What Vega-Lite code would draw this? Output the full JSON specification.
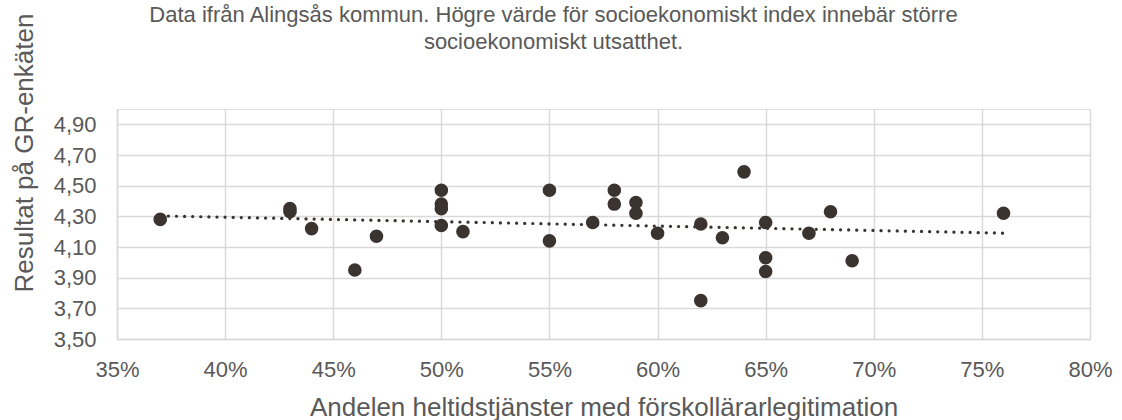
{
  "$schema": "https://vega.github.io/schema/vega-lite/v6.json",
  "width": 973,
  "height": 230,
  "autosize": {"type": "none"},
  "padding": {"left": 117, "top": 109, "right": 32, "bottom": 81},
  "background": "white",
  "title": {
    "text": ["Data ifrån Alingsås kommun. Högre värde för socioekonomiskt index innebär större", "socioekonomiskt utsatthet."],
    "font": "Liberation Sans",
    "fontSize": 22,
    "fontWeight": "normal",
    "color": "#595959",
    "lineHeight": 27,
    "anchor": "middle",
    "frame": "group",
    "dx": -50,
    "offset": 0,
    "dy": 41
  },
  "data": {
    "values": [
      {"andel": 0.37, "resultat": 4.28},
      {"andel": 0.43, "resultat": 4.35},
      {"andel": 0.43, "resultat": 4.33},
      {"andel": 0.44, "resultat": 4.22},
      {"andel": 0.46, "resultat": 3.95},
      {"andel": 0.47, "resultat": 4.17},
      {"andel": 0.50, "resultat": 4.47},
      {"andel": 0.50, "resultat": 4.38},
      {"andel": 0.50, "resultat": 4.35},
      {"andel": 0.50, "resultat": 4.24},
      {"andel": 0.51, "resultat": 4.20},
      {"andel": 0.55, "resultat": 4.47},
      {"andel": 0.55, "resultat": 4.14},
      {"andel": 0.57, "resultat": 4.26},
      {"andel": 0.58, "resultat": 4.47},
      {"andel": 0.58, "resultat": 4.38},
      {"andel": 0.59, "resultat": 4.39},
      {"andel": 0.59, "resultat": 4.32},
      {"andel": 0.60, "resultat": 4.19},
      {"andel": 0.62, "resultat": 4.25},
      {"andel": 0.62, "resultat": 3.75},
      {"andel": 0.63, "resultat": 4.16},
      {"andel": 0.64, "resultat": 4.59},
      {"andel": 0.65, "resultat": 4.26},
      {"andel": 0.65, "resultat": 4.03},
      {"andel": 0.65, "resultat": 3.94},
      {"andel": 0.67, "resultat": 4.19},
      {"andel": 0.68, "resultat": 4.33},
      {"andel": 0.69, "resultat": 4.01},
      {"andel": 0.76, "resultat": 4.32}
    ]
  },
  "encoding": {
    "x": {
      "field": "andel",
      "type": "quantitative",
      "scale": {"domain": [0.35, 0.80], "nice": false, "zero": false},
      "axis": {
        "values": [0.35, 0.40, 0.45, 0.50, 0.55, 0.60, 0.65, 0.70, 0.75, 0.80],
        "format": ".0%",
        "title": "Andelen heltidstjänster med förskollärarlegitimation",
        "titleFont": "Liberation Sans",
        "titleFontSize": 26,
        "titleFontWeight": "normal",
        "titleColor": "#595959",
        "titleBaseline": "alphabetic",
        "titleY": 76,
        "labelFont": "Liberation Sans",
        "labelFontSize": 22,
        "labelColor": "#595959",
        "labelPadding": 20,
        "labelFlush": false,
        "ticks": false,
        "grid": true,
        "gridColor": "#d9d9d9",
        "gridWidth": 1.5,
        "domainColor": "#d9d9d9",
        "domainWidth": 1.5
      }
    },
    "y": {
      "field": "resultat",
      "type": "quantitative",
      "scale": {"domain": [3.5, 5.0], "nice": false, "zero": false},
      "axis": {
        "values": [3.5, 3.7, 3.9, 4.1, 4.3, 4.5, 4.7, 4.9],
        "labelExpr": "replace(format(datum.value, '.2f'), '.', ',')",
        "title": "Resultat på GR-enkäten",
        "titleFont": "Liberation Sans",
        "titleFontSize": 26,
        "titleFontWeight": "normal",
        "titleColor": "#595959",
        "titleAngle": -90,
        "titleAlign": "left",
        "titleBaseline": "alphabetic",
        "titleX": -85,
        "titleY": 183,
        "labelFont": "Liberation Sans",
        "labelFontSize": 22,
        "labelColor": "#595959",
        "labelPadding": 21,
        "labelFlush": false,
        "ticks": false,
        "grid": true,
        "gridColor": "#d9d9d9",
        "gridWidth": 1.5,
        "domainColor": "#d9d9d9",
        "domainWidth": 1.5
      }
    }
  },
  "layer": [
    {
      "mark": {"type": "point", "filled": true, "shape": "circle", "size": 185, "color": "#3a3330", "opacity": 1}
    },
    {
      "transform": [{"regression": "resultat", "on": "andel"}],
      "mark": {"type": "line", "color": "#3a3330", "strokeWidth": 3.2, "strokeDash": [0.1, 8], "strokeCap": "round"}
    }
  ]
}
